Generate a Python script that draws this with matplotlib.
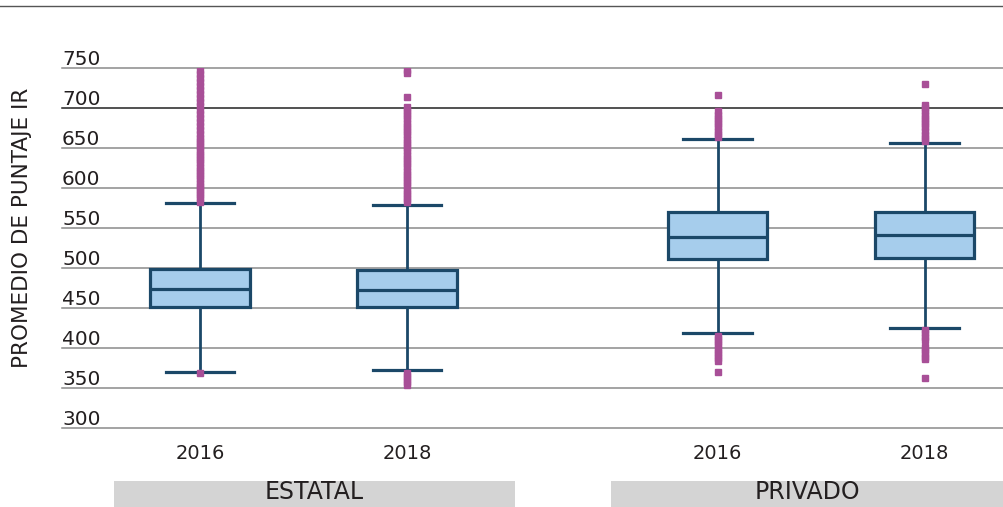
import matplotlib
matplotlib.use("Agg")
import matplotlib.pyplot as plt
import matplotlib.transforms as mtransforms
from matplotlib.lines import Line2D
from matplotlib.patches import Rectangle

# data
groups = ["ESTATAL", "PRIVADO"]
years = ["2016", "2018", "2016", "2018"]
q1 = [451, 451, 511, 512]
median = [474, 473, 539, 541]
q3 = [499, 498, 570, 570]
whis_lo = [370, 372, 418, 425]
whis_hi = [581, 579, 661, 657]
outliers_estatal_2016 = [748, 743, 738, 733, 728, 723, 718, 713, 708, 703, 698, 693,
                         688, 683, 678, 673, 668, 663, 659, 655, 651, 647, 643, 639,
                         635, 631, 627, 623, 619, 615, 611, 607, 603, 599, 595, 591,
                         587, 583, 369]
outliers_estatal_2018 = [748, 744, 714, 702, 698, 694, 690, 686, 682, 678, 674, 670,
                         666, 662, 658, 654, 650, 646, 642, 638, 634, 630, 626, 622,
                         618, 614, 610, 606, 602, 598, 594, 590, 586, 582,
                         369, 365, 361, 357, 354]
outliers_privado_2016 = [717, 696, 692, 688, 684, 680, 676, 672, 668, 664,
                         415, 411, 407, 403, 399, 395, 391, 387, 384, 370]
outliers_privado_2018 = [730, 704, 700, 696, 692, 688, 684, 680, 676, 671, 667, 663,
                         659, 422, 418, 414, 410, 401, 397, 393, 389, 386, 362]
outliers = [outliers_estatal_2016, outliers_estatal_2018,
            outliers_privado_2016, outliers_privado_2018]
y_ticks = [300, 350, 400, 450, 500, 550, 600, 650, 700, 750]

positions = [1, 2, 3.5, 4.5]
box_face = "#a6cdec"
box_edge = "#1b4868"
flier_color = "#a84f97"
text_color = "#231f20"

plt.rcParams["font.family"] = "DejaVu Sans"

fig = plt.figure(figsize=(10.04, 5.07), dpi=100)
ax = fig.add_axes([0.0618, 0.1564, 0.9382, 0.7089])

stats = []
for i in range(len(years)):
    stats.append(dict(med=median[i], q1=q1[i], q3=q3[i], whislo=whis_lo[i],
                      whishi=whis_hi[i], fliers=outliers[i]))

ax.bxp(stats, positions=positions, widths=0.48, patch_artist=True,
       showfliers=True, capwidths=0.33,
       boxprops=dict(facecolor=box_face, edgecolor=box_edge, linewidth=2.3),
       medianprops=dict(color=box_edge, linewidth=2.3),
       whiskerprops=dict(color=box_edge, linewidth=2.0),
       capprops=dict(color=box_edge, linewidth=2.3),
       flierprops=dict(marker="s", markersize=3.8, markerfacecolor=flier_color,
                       markeredgecolor=flier_color, linestyle="none"))

ax.set_xlim(0.3333, 4.884)
ax.set_ylim(300, 750)

# gridlines behind the boxes, labels sitting just above each line
label_offset = mtransforms.ScaledTranslation(0, 3 / 100, fig.dpi_scale_trans)
label_trans = mtransforms.blended_transform_factory(ax.transAxes, ax.transData) + label_offset
for v in y_ticks:
    ax.axhline(v, color="#222222" if v == 700 else "#8a8a8a", linewidth=1.1,
               zorder=0, clip_on=False)
    ax.text(0, v, str(v), transform=label_trans, ha="left", va="baseline",
            fontsize=14.5, color=text_color)

ax.set_yticks([])
ax.set_xticks(positions)
ax.set_xticklabels(years, fontsize=14, color=text_color)
ax.tick_params(axis="x", length=0, pad=12)
for s in ax.spines.values():
    s.set_visible(False)

fig.text(0.022, 0.55, "PROMEDIO DE PUNTAJE IR", rotation=90, ha="center",
         va="center", fontsize=15.5, color=text_color)

# group bands at the bottom
band_x = [(0.1135, 0.3994), (0.6086, 0.3914)]
for (x0, w), name in zip(band_x, groups):
    fig.add_artist(Rectangle((x0, 0), w, 0.0513, transform=fig.transFigure,
                             facecolor="#d4d4d4", edgecolor="none"))
    fig.text(x0 + w / 2, 0.029, name, ha="center", va="center",
             fontsize=17, color=text_color)

fig.add_artist(Line2D([0, 1], [0.988, 0.988], transform=fig.transFigure,
                      color="#555555", linewidth=1.0))

fig.savefig("out.png", dpi=100)
